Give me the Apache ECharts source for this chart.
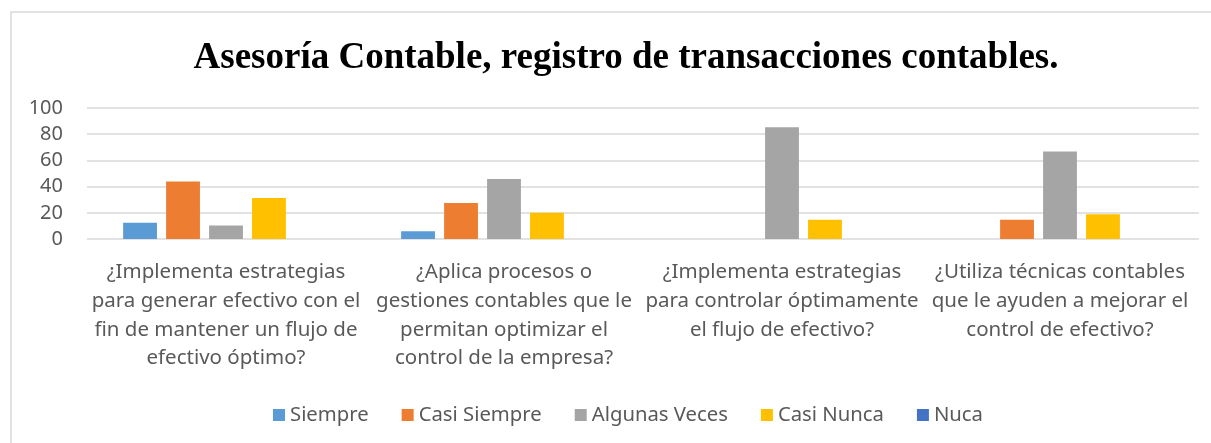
<!DOCTYPE html>
<html>
<head>
<meta charset="utf-8">
<script src="https://cdn.jsdelivr.net/npm/echarts@6/dist/echarts.min.js"></script>
<style>
  html, body { margin: 0; padding: 0; background: #fff; }
  #main { width: 1211px; height: 443px; }
</style>
</head>
<body>
<div id="main"></div>
<script>
var categories = [
  '¿Implementa estrategias\npara generar efectivo con el\nfin de mantener un flujo de\nefectivo óptimo?',
  '¿Aplica procesos o\ngestiones contables que le\npermitan optimizar el\ncontrol de la empresa?',
  '¿Implementa estrategias\npara controlar óptimamente\nel flujo de efectivo?',
  '¿Utiliza técnicas contables\nque le ayuden a mejorar el\ncontrol de efectivo?'
];
var siempre = [12.5, 6, 0, 0];
var casiSiempre = [43.8, 27.5, 0, 14.6];
var algunasVeces = [10.4, 45.8, 85.4, 66.7];
var casiNunca = [31.3, 20, 14.6, 18.8];
var nuca = [0, 0, 0, 0];
var yTicks = [0, 20, 40, 60, 80, 100];

var chartDom = document.getElementById('main');
var myChart = echarts.init(chartDom);

function bar(name, data, color) {
  return {
    name: name,
    type: 'bar',
    data: data,
    barGap: '27%',
    barCategoryGap: '26%',
    itemStyle: { color: color },
    animation: false
  };
}

var option = {
  animation: false,
  graphic: [{
    type: 'rect',
    shape: { x: 11, y: 12, width: 1300, height: 500 },
    style: { fill: 'none', stroke: '#d9d9d9', lineWidth: 1.5 },
    silent: true
  }],
  title: {
    text: 'Asesoría Contable, registro de transacciones contables.',
    left: 621,
    top: 35,
    textAlign: 'center',
    textStyle: {
      fontFamily: 'Liberation Serif',
      fontWeight: 'bold',
      fontSize: 37,
      color: '#000'
    }
  },
  legend: {
    bottom: 13,
    left: 268,
    itemWidth: 12,
    itemHeight: 12,
    itemGap: 33,
    icon: 'rect',
    textStyle: { fontFamily: 'Noto Sans', fontSize: 20.3, color: '#595959' },
    data: ['Siempre', 'Casi Siempre', 'Algunas Veces', 'Casi Nunca', 'Nuca']
  },
  grid: { left: 87, right: 12, top: 108, bottom: 204, containLabel: false },
  xAxis: {
    type: 'category',
    data: categories,
    axisLine: { show: false },
    axisTick: { show: false },
    axisLabel: {
      interval: 0,
      margin: 19,
      fontFamily: 'Noto Sans',
      fontSize: 20.5,
      lineHeight: 28.7,
      color: '#595959'
    }
  },
  yAxis: {
    type: 'value',
    min: yTicks[0],
    max: yTicks[yTicks.length - 1],
    interval: 20,
    axisLine: { show: false },
    axisTick: { show: false },
    axisLabel: {
      margin: 24,
      fontFamily: 'Noto Sans',
      fontSize: 20,
      color: '#595959'
    },
    splitLine: { lineStyle: { color: '#d9d9d9', width: 1.5 } }
  },
  series: [
    bar('Siempre', siempre, '#5B9BD5'),
    bar('Casi Siempre', casiSiempre, '#ED7D31'),
    bar('Algunas Veces', algunasVeces, '#A5A5A5'),
    bar('Casi Nunca', casiNunca, '#FFC000'),
    bar('Nuca', nuca, '#4472C4')
  ]
};

option && myChart.setOption(option);
</script>
</body>
</html>
